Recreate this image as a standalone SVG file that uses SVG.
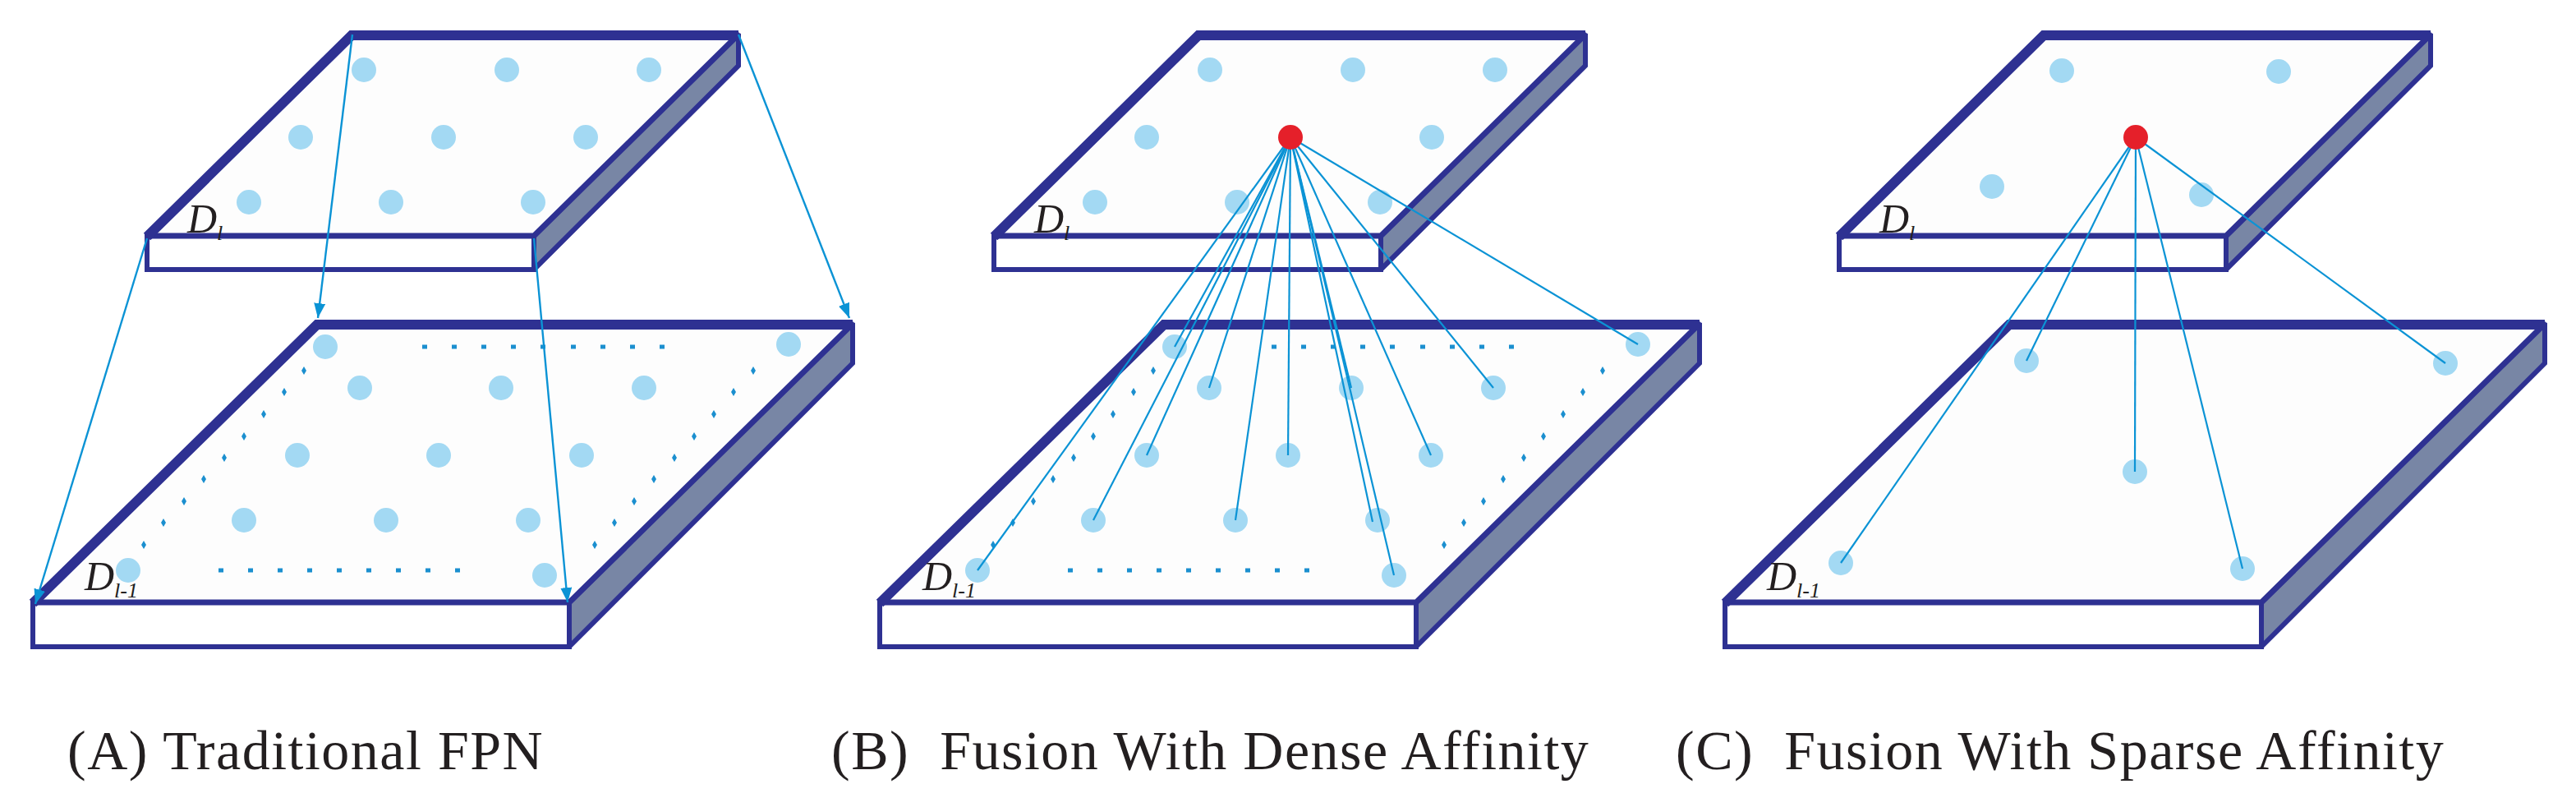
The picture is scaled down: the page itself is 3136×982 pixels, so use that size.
<svg xmlns="http://www.w3.org/2000/svg" width="3136" height="982" viewBox="0 0 3136 982">
<style>
.bg{fill:#ffffff}
.face{fill:#fdfdfd;stroke:#2e3192;stroke-width:7;stroke-linejoin:miter;stroke-miterlimit:2}
.front{fill:#ffffff;stroke:#2e3192;stroke-width:6}
.side{fill:#7886a5;stroke:#2e3192;stroke-width:6;stroke-linejoin:miter;stroke-miterlimit:2}
.edge{fill:none;stroke:#2e3192;stroke-width:12;stroke-linejoin:miter;stroke-miterlimit:2}
.dot{fill:#a3d9f3}
.red{fill:#e5202a}
.sq{fill:#1b8fcf}
.ln{fill:none;stroke:#0b93d5;stroke-width:2.2}
.arr{fill:none;stroke:#0b93d5;stroke-width:2.4}
.lbl{font-family:"Liberation Serif",serif;font-style:italic;font-size:50px;fill:#231f20}
.sub{font-size:26px}
.cap{font-family:"Liberation Serif",serif;font-size:68px;letter-spacing:1.5px;fill:#231f20}
</style>
<defs>
<marker id="ah" markerUnits="userSpaceOnUse" markerWidth="20" markerHeight="14" refX="18" refY="7" orient="auto">
<path d="M0,0 L18,7 L0,14 Z" fill="#0b93d5"/>
</marker>
<g id="topSlab">
<polygon class="side" points="650,287 899,41 899,80 650,328"/>
<rect class="front" x="179" y="287" width="471" height="41"/>
<polygon class="face" points="179,287 427,42 899,42 650,287"/>
<polyline class="edge" points="179,288 428,43 899,43"/>
</g>
<g id="botSlab">
<polygon class="side" points="693,733 1038,393 1038,442 693,787"/>
<rect class="front" x="40" y="733" width="653" height="54"/>
<polygon class="face" points="40,733 385,394 1038,394 693,733"/>
<polyline class="edge" points="40,734 386,395 1038,395"/>
</g>
<g id="rowDots">
<rect class="sq" x="-3" y="-2.5" width="6" height="5"/>
</g>
<path id="dia" class="sq" d="M0,-5 L3,0 L0,5 L-3,0 Z"/>
<g id="grid">
<use href="#rowDots" x="517" y="422"/><use href="#rowDots" x="553" y="422"/><use href="#rowDots" x="589" y="422"/><use href="#rowDots" x="625" y="422"/><use href="#rowDots" x="661" y="422"/><use href="#rowDots" x="698" y="422"/><use href="#rowDots" x="734" y="422"/><use href="#rowDots" x="770" y="422"/><use href="#rowDots" x="806" y="422"/>
<use href="#rowDots" x="269" y="694"/><use href="#rowDots" x="305" y="694"/><use href="#rowDots" x="341" y="694"/><use href="#rowDots" x="377" y="694"/><use href="#rowDots" x="413" y="694"/><use href="#rowDots" x="449" y="694"/><use href="#rowDots" x="485" y="694"/><use href="#rowDots" x="521" y="694"/><use href="#rowDots" x="557" y="694"/>
<use href="#dia" x="370" y="451"/><use href="#dia" x="346" y="477"/><use href="#dia" x="321" y="504"/><use href="#dia" x="297" y="531"/><use href="#dia" x="273" y="557"/><use href="#dia" x="248" y="583"/><use href="#dia" x="224" y="610"/><use href="#dia" x="199" y="636"/><use href="#dia" x="175" y="663"/>
<use href="#dia" x="917" y="451"/><use href="#dia" x="893" y="477"/><use href="#dia" x="869" y="504"/><use href="#dia" x="845" y="531"/><use href="#dia" x="821" y="557"/><use href="#dia" x="796" y="583"/><use href="#dia" x="772" y="610"/><use href="#dia" x="748" y="636"/><use href="#dia" x="724" y="663"/>
</g>
</defs>
<rect class="bg" x="0" y="0" width="3136" height="982"/>

<!-- Panel A -->
<g id="A-top">
<use href="#topSlab"/>
<circle class="dot" cx="443" cy="85" r="15"/><circle class="dot" cx="617" cy="85" r="15"/><circle class="dot" cx="790" cy="85" r="15"/>
<circle class="dot" cx="366" cy="167" r="15"/><circle class="dot" cx="540" cy="167" r="15"/><circle class="dot" cx="713" cy="167" r="15"/>
<circle class="dot" cx="303" cy="246" r="15"/><circle class="dot" cx="476" cy="246" r="15"/><circle class="dot" cx="649" cy="246" r="15"/>
<text class="lbl" x="228" y="283">D<tspan class="sub" dy="9">l</tspan></text>
</g>
<g id="A-bottom">
<use href="#botSlab"/>
<use href="#grid"/>
<circle class="dot" cx="396" cy="422" r="15"/><circle class="dot" cx="960" cy="419" r="15"/>
<circle class="dot" cx="438" cy="472" r="15"/><circle class="dot" cx="610" cy="472" r="15"/><circle class="dot" cx="784" cy="472" r="15"/>
<circle class="dot" cx="362" cy="554" r="15"/><circle class="dot" cx="534" cy="554" r="15"/><circle class="dot" cx="708" cy="554" r="15"/>
<circle class="dot" cx="297" cy="633" r="15"/><circle class="dot" cx="470" cy="633" r="15"/><circle class="dot" cx="643" cy="633" r="15"/>
<circle class="dot" cx="156" cy="694" r="15"/><circle class="dot" cx="663" cy="700" r="15"/>
<text class="lbl" x="103" y="718">D<tspan class="sub" dy="9">l-1</tspan></text>
</g>
<g id="A-connectors">
<line class="arr" x1="179" y1="290" x2="43" y2="735" marker-end="url(#ah)"/>
<line class="arr" x1="429" y1="42" x2="387" y2="387" marker-end="url(#ah)"/>
<line class="arr" x1="650" y1="290" x2="691" y2="733" marker-end="url(#ah)"/>
<line class="arr" x1="899" y1="42" x2="1034" y2="387" marker-end="url(#ah)"/>
</g>

<!-- Panel B -->
<g id="B-top">
<use href="#topSlab" x="1031"/>
<circle class="dot" cx="1473" cy="85" r="15"/><circle class="dot" cx="1647" cy="85" r="15"/><circle class="dot" cx="1820" cy="85" r="15"/>
<circle class="dot" cx="1396" cy="167" r="15"/><circle class="dot" cx="1743" cy="167" r="15"/>
<circle class="dot" cx="1333" cy="246" r="15"/><circle class="dot" cx="1506" cy="246" r="15"/><circle class="dot" cx="1680" cy="246" r="15"/>
<text class="lbl" x="1259" y="283">D<tspan class="sub" dy="9">l</tspan></text>
</g>
<g id="B-bottom">
<use href="#botSlab" x="1031"/>
<use href="#grid" x="1034"/>
<circle class="dot" cx="1430" cy="422" r="15"/><circle class="dot" cx="1994" cy="419" r="15"/>
<circle class="dot" cx="1472" cy="472" r="15"/><circle class="dot" cx="1645" cy="472" r="15"/><circle class="dot" cx="1818" cy="472" r="15"/>
<circle class="dot" cx="1396" cy="554" r="15"/><circle class="dot" cx="1568" cy="554" r="15"/><circle class="dot" cx="1742" cy="554" r="15"/>
<circle class="dot" cx="1331" cy="633" r="15"/><circle class="dot" cx="1504" cy="633" r="15"/><circle class="dot" cx="1677" cy="633" r="15"/>
<circle class="dot" cx="1190" cy="694" r="15"/><circle class="dot" cx="1697" cy="700" r="15"/>
<text class="lbl" x="1123" y="718">D<tspan class="sub" dy="9">l-1</tspan></text>
</g>
<g id="B-connectors">
<line class="ln" x1="1571" y1="167" x2="1430" y2="422"/>
<line class="ln" x1="1571" y1="167" x2="1994" y2="419"/>
<line class="ln" x1="1571" y1="167" x2="1472" y2="472"/>
<line class="ln" x1="1571" y1="167" x2="1645" y2="472"/>
<line class="ln" x1="1571" y1="167" x2="1818" y2="472"/>
<line class="ln" x1="1571" y1="167" x2="1396" y2="554"/>
<line class="ln" x1="1571" y1="167" x2="1568" y2="554"/>
<line class="ln" x1="1571" y1="167" x2="1742" y2="554"/>
<line class="ln" x1="1571" y1="167" x2="1331" y2="633"/>
<line class="ln" x1="1571" y1="167" x2="1504" y2="633"/>
<line class="ln" x1="1571" y1="167" x2="1671" y2="635"/>
<line class="ln" x1="1571" y1="167" x2="1190" y2="694"/>
<line class="ln" x1="1571" y1="167" x2="1697" y2="700"/>
</g>
<g id="B-source">
<circle class="red" cx="1571" cy="167" r="15"/>
</g>

<!-- Panel C -->
<g id="C-top">
<use href="#topSlab" x="2060"/>
<circle class="dot" cx="2510" cy="86" r="15"/><circle class="dot" cx="2774" cy="87" r="15"/>
<circle class="dot" cx="2425" cy="227" r="15"/><circle class="dot" cx="2680" cy="237" r="15"/>
<text class="lbl" x="2288" y="283">D<tspan class="sub" dy="9">l</tspan></text>
</g>
<g id="C-bottom">
<use href="#botSlab" x="2060"/>
<circle class="dot" cx="2467" cy="439" r="15"/><circle class="dot" cx="2977" cy="442" r="15"/>
<circle class="dot" cx="2599" cy="574" r="15"/>
<circle class="dot" cx="2241" cy="685" r="15"/><circle class="dot" cx="2730" cy="692" r="15"/>
<text class="lbl" x="2151" y="718">D<tspan class="sub" dy="9">l-1</tspan></text>
</g>
<g id="C-connectors">
<line class="ln" x1="2600" y1="167" x2="2467" y2="439"/>
<line class="ln" x1="2600" y1="167" x2="2977" y2="442"/>
<line class="ln" x1="2600" y1="167" x2="2599" y2="574"/>
<line class="ln" x1="2600" y1="167" x2="2241" y2="685"/>
<line class="ln" x1="2600" y1="167" x2="2730" y2="692"/>
</g>
<g id="C-source">
<circle class="red" cx="2600" cy="167" r="15"/>
</g>

<!-- Captions -->
<g id="captions">
<text class="cap" x="82" y="936" xml:space="preserve">(A) Traditional FPN</text>
<text class="cap" x="1012" y="936" xml:space="preserve">(B)  Fusion With Dense Affinity</text>
<text class="cap" x="2040" y="936" xml:space="preserve">(C)  Fusion With Sparse Affinity</text>
</g>
</svg>
